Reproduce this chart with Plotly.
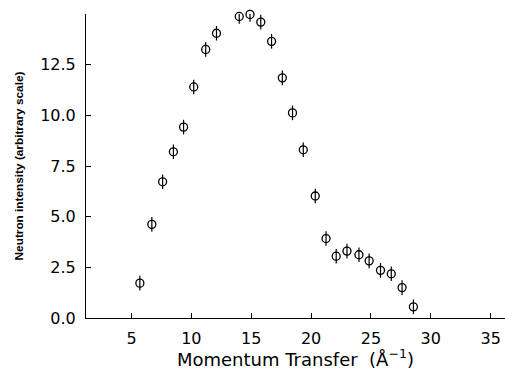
import plotly.graph_objects as go

momentum = [5.7, 6.7, 7.6, 8.5, 9.35, 10.2, 11.2, 12.1, 14.0, 14.9, 15.8, 16.7,
            17.6, 18.45, 19.35, 20.35, 21.25, 22.1, 23.0, 24.0, 24.85, 25.8,
            26.7, 27.6, 28.55]
intensity = [1.72, 4.62, 6.72, 8.2, 9.42, 11.4, 13.25, 14.05, 14.88, 14.98, 14.6,
             13.65, 11.85, 10.12, 8.3, 6.02, 3.92, 3.05, 3.3, 3.12, 2.82, 2.35,
             2.18, 1.5, 0.55]
error = [0.36] * len(momentum)

x_ticks = [5, 10, 15, 20, 25, 30, 35]
y_ticks = [0, 2.5, 5, 7.5, 10, 12.5]
y_tick_text = ["0.0", "2.5", "5.0", "7.5", "10.0", "12.5"]

fig = go.Figure()
fig.add_trace(go.Scatter(
    x=momentum, y=intensity, mode="markers", cliponaxis=False,
    marker=dict(symbol="circle-open", size=8, color="black", line=dict(width=1.3, color="black")),
    error_y=dict(type="data", array=error, visible=True, width=0, thickness=1.2, color="black"),
    showlegend=False,
))

fig.update_layout(
    width=505, height=370,
    margin=dict(l=86, r=0, t=14, b=52),
    paper_bgcolor="white", plot_bgcolor="white",
    font=dict(family="DejaVu Sans", color="black", size=16),
    xaxis=dict(
        range=[1.2, 36.2], tickvals=x_ticks, ticktext=[str(v) for v in x_ticks],
        showline=True, linecolor="black", linewidth=1, ticks="inside", ticklen=5,
        tickcolor="black", showgrid=False, zeroline=False, ticklabelstandoff=6,
        title=dict(text="Momentum Transfer  (Å<sup>−1</sup>)", font=dict(size=18, family="DejaVu Sans"), standoff=5),
    ),
    yaxis=dict(
        range=[0, 15], tickvals=y_ticks, ticktext=y_tick_text,
        showline=True, linecolor="black", linewidth=1, ticks="inside", ticklen=5,
        tickcolor="black", showgrid=False, zeroline=False, ticklabelstandoff=6,
        minor=dict(tickvals=[15], ticks="inside", ticklen=5, tickcolor="black", showgrid=False),
        title=dict(text="<b>Neutron intensity (arbitrary scale)</b>", font=dict(size=11.8, family="Liberation Sans"), standoff=14),
    ),
)

fig.write_html("out.html")
